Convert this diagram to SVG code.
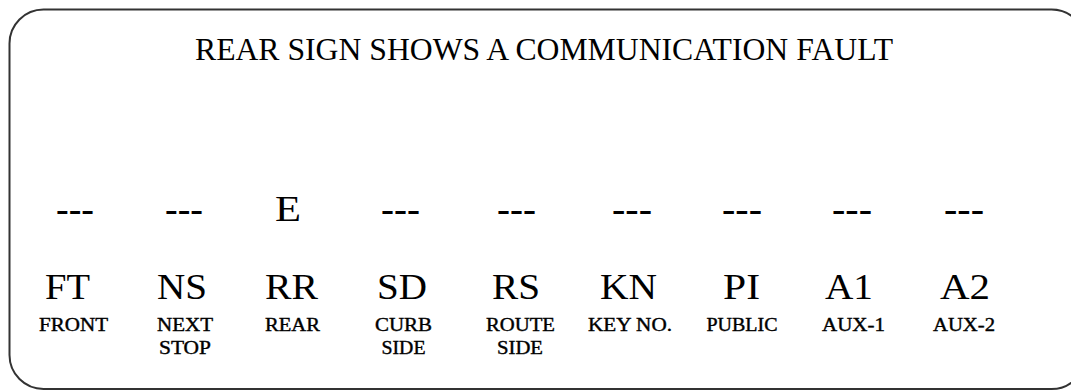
<svg xmlns="http://www.w3.org/2000/svg" width="1071" height="392" viewBox="0 0 1071 392">
<style>
text{font-family:"Liberation Serif","Times New Roman",serif;fill:#000;text-anchor:middle}
.title{font-size:31px}
.code{font-size:35px}
.val{font-size:35px}
.dash{font-size:34px;font-weight:bold}
.lbl{font-size:19px;stroke:#000;stroke-width:0.4}
.frame{fill:#fff;stroke:#333;stroke-width:2}
</style>
<rect width="1071" height="392" fill="#fff"/>
<rect class="frame" x="9.5" y="9.5" width="1076" height="379.5" rx="34" ry="34"/>
<text class="title" x="544" y="60" textLength="698" lengthAdjust="spacingAndGlyphs">REAR SIGN SHOWS A COMMUNICATION FAULT</text>
<g id="col-ft">
<text class="dash" x="75" y="221" textLength="38" lengthAdjust="spacingAndGlyphs">---</text>
<text class="code" x="67.5" y="299" textLength="45" lengthAdjust="spacingAndGlyphs">FT</text>
<text class="lbl" x="73.5" y="331" textLength="69" lengthAdjust="spacingAndGlyphs">FRONT</text>
</g>
<g id="col-ns">
<text class="dash" x="184" y="221" textLength="38" lengthAdjust="spacingAndGlyphs">---</text>
<text class="code" x="182" y="299" textLength="50" lengthAdjust="spacingAndGlyphs">NS</text>
<text class="lbl" x="185" y="331" textLength="56" lengthAdjust="spacingAndGlyphs">NEXT</text>
<text class="lbl" x="185" y="354" textLength="52" lengthAdjust="spacingAndGlyphs">STOP</text>
</g>
<g id="col-rr">
<text class="val" x="288" y="221" textLength="26" lengthAdjust="spacingAndGlyphs">E</text>
<text class="code" x="291.5" y="299" textLength="53" lengthAdjust="spacingAndGlyphs">RR</text>
<text class="lbl" x="292.5" y="331" textLength="55" lengthAdjust="spacingAndGlyphs">REAR</text>
</g>
<g id="col-sd">
<text class="dash" x="400.5" y="221" textLength="39" lengthAdjust="spacingAndGlyphs">---</text>
<text class="code" x="402" y="299" textLength="50" lengthAdjust="spacingAndGlyphs">SD</text>
<text class="lbl" x="403.5" y="331" textLength="57" lengthAdjust="spacingAndGlyphs">CURB</text>
<text class="lbl" x="403.5" y="354" textLength="44" lengthAdjust="spacingAndGlyphs">SIDE</text>
</g>
<g id="col-rs">
<text class="dash" x="516.5" y="221" textLength="39" lengthAdjust="spacingAndGlyphs">---</text>
<text class="code" x="516" y="299" textLength="48" lengthAdjust="spacingAndGlyphs">RS</text>
<text class="lbl" x="520.5" y="331" textLength="69" lengthAdjust="spacingAndGlyphs">ROUTE</text>
<text class="lbl" x="520" y="354" textLength="46" lengthAdjust="spacingAndGlyphs">SIDE</text>
</g>
<g id="col-kn">
<text class="dash" x="632" y="221" textLength="40" lengthAdjust="spacingAndGlyphs">---</text>
<text class="code" x="628.5" y="299" textLength="57" lengthAdjust="spacingAndGlyphs">KN</text>
<text class="lbl" x="630" y="331" textLength="84" lengthAdjust="spacingAndGlyphs">KEY NO.</text>
</g>
<g id="col-pi">
<text class="dash" x="742" y="221" textLength="40" lengthAdjust="spacingAndGlyphs">---</text>
<text class="code" x="741.5" y="299" textLength="37" lengthAdjust="spacingAndGlyphs">PI</text>
<text class="lbl" x="742" y="331" textLength="71" lengthAdjust="spacingAndGlyphs">PUBLIC</text>
</g>
<g id="col-a1">
<text class="dash" x="852" y="221" textLength="40" lengthAdjust="spacingAndGlyphs">---</text>
<text class="code" x="849" y="299" textLength="48" lengthAdjust="spacingAndGlyphs">A1</text>
<text class="lbl" x="853.5" y="331" textLength="63" lengthAdjust="spacingAndGlyphs">AUX-1</text>
</g>
<g id="col-a2">
<text class="dash" x="964" y="221" textLength="40" lengthAdjust="spacingAndGlyphs">---</text>
<text class="code" x="965" y="299" textLength="50" lengthAdjust="spacingAndGlyphs">A2</text>
<text class="lbl" x="964" y="331" textLength="62" lengthAdjust="spacingAndGlyphs">AUX-2</text>
</g>
</svg>
